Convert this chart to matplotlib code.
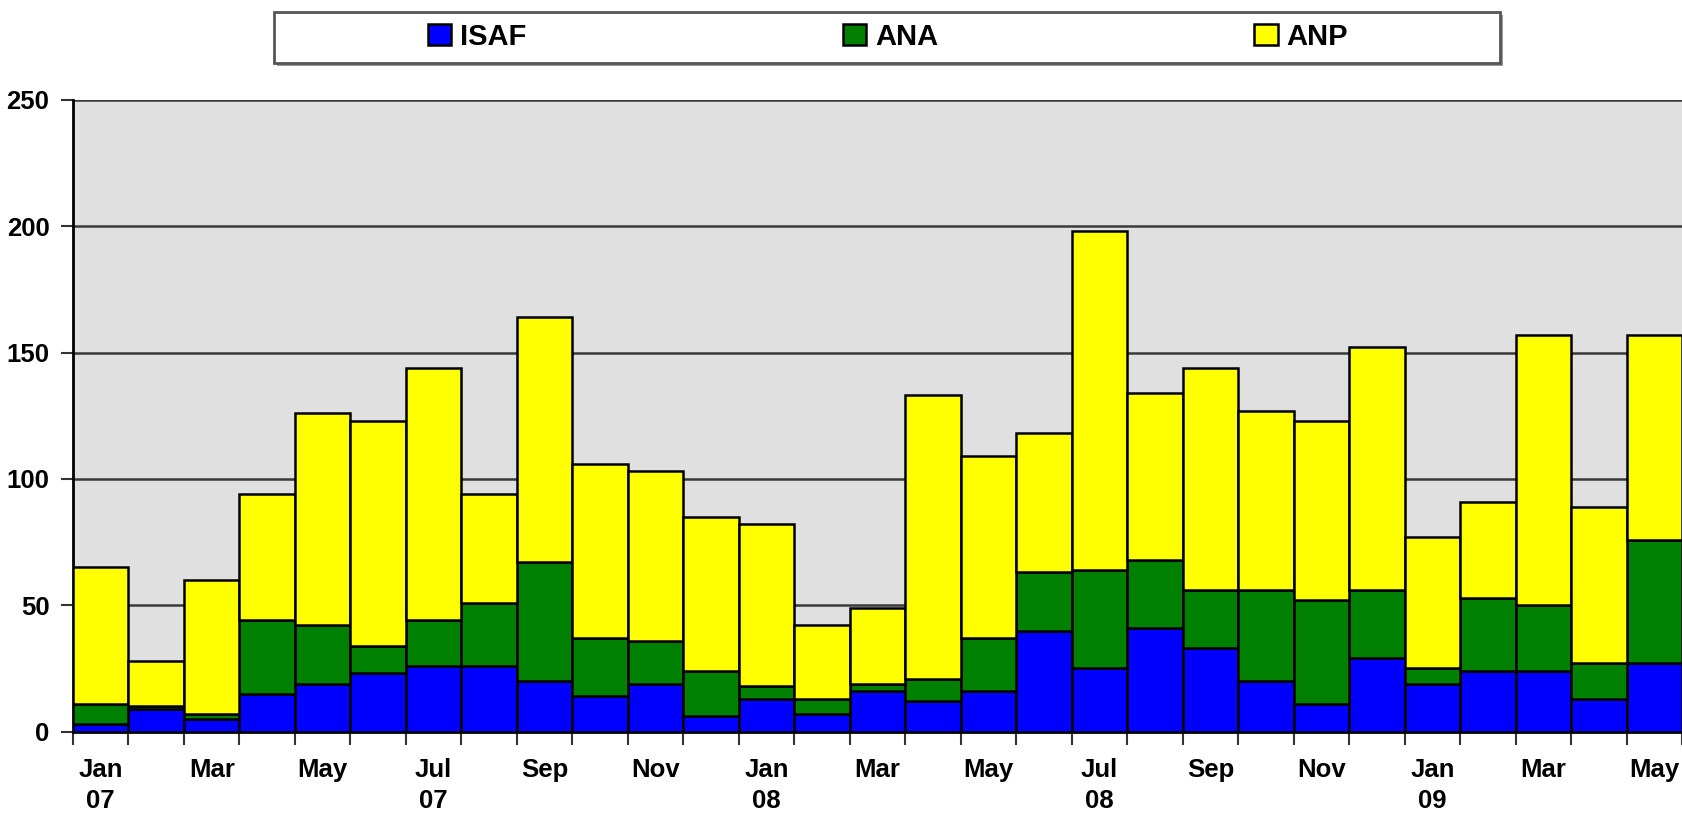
import matplotlib
matplotlib.use("Agg")
import matplotlib.pyplot as plt
import matplotlib.patches as mpatches
import numpy as np

plt.rcParams['font.family'] = ['Liberation Sans', 'DejaVu Sans']
plt.rcParams['font.weight'] = 'bold'

# monthly counts, Jan 2007 - May 2009
months = ['Jan\n07', 'Feb', 'Mar', 'Apr', 'May', 'Jun', 'Jul\n07', 'Aug', 'Sep', 'Oct', 'Nov', 'Dec',
          'Jan\n08', 'Feb', 'Mar', 'Apr', 'May', 'Jun', 'Jul\n08', 'Aug', 'Sep', 'Oct', 'Nov', 'Dec',
          'Jan\n09', 'Feb', 'Mar', 'Apr', 'May']
isaf = [3, 9, 5, 15, 19, 23, 26, 26, 20, 14, 19, 6,
        13, 7, 16, 12, 16, 40, 25, 41, 33, 20, 11, 29,
        19, 24, 24, 13, 27]
ana = [8, 1, 2, 29, 23, 11, 18, 25, 47, 23, 17, 18,
       5, 6, 3, 9, 21, 23, 39, 27, 23, 36, 41, 27,
       6, 29, 26, 14, 49]
anp = [54, 18, 53, 50, 84, 89, 100, 43, 97, 69, 67, 61,
       64, 29, 30, 112, 72, 55, 134, 66, 88, 71, 71, 96,
       52, 38, 107, 62, 81]

series = ['ISAF', 'ANA', 'ANP']
colors = ['#0000FF', '#008000', '#FFFF00']

fig = plt.figure(figsize=(16.82, 8.14), dpi=100)
ax = fig.add_axes([0.0434, 0.1012, 0.9566, 0.7762])
ax.set_facecolor('#E0E0E0')

x = np.arange(len(months))
bottom = np.zeros(len(months))
handles = []
for name, vals, col in zip(series, [isaf, ana, anp], colors):
    b = ax.bar(x, vals, width=1.0, bottom=bottom, color=col, edgecolor='black',
               linewidth=1.8, label=name, zorder=3)
    handles.append(b)
    bottom = bottom + np.array(vals)

ax.set_xlim(-0.5, len(months) - 0.5)
ax.set_ylim(0, 250)
ax.set_yticks(np.arange(0, 251, 50))
ax.yaxis.grid(True, color='#3a3a3a', linewidth=1.8, zorder=1)
ax.set_axisbelow(True)

# ticks at bar boundaries, labels every second month at bar centres
ax.set_xticks(np.arange(-0.5, len(months), 1.0))
ax.set_xticklabels([])
ax.tick_params(axis='x', which='major', length=9, width=1.5, direction='out', color='#333333')
lab_pos = x[::2]
ax.set_xticks(lab_pos, minor=True)
ax.set_xticklabels([months[i] for i in lab_pos], minor=True, fontsize=18.5, fontweight='bold',
                   linespacing=1.35, va='top')
ax.tick_params(axis='x', which='minor', length=0, pad=19)
ax.tick_params(axis='y', length=9, width=1.5, pad=8, labelsize=18.5, color='#333333')
for t in ax.get_yticklabels():
    t.set_fontweight('bold')

for s in ['top', 'right']:
    ax.spines[s].set_visible(False)
ax.spines['left'].set_linewidth(2)
ax.spines['bottom'].set_linewidth(2)

# legend box across the top
shadow = mpatches.Rectangle((274 / 1682 + 0.002, 1 - 63 / 814 - 0.004), 1226 / 1682, 51 / 814,
                            transform=fig.transFigure, facecolor='#9a9a9a', edgecolor='none')
box = mpatches.Rectangle((274 / 1682, 1 - 63 / 814), 1226 / 1682, 51 / 814,
                         transform=fig.transFigure, facecolor='white', edgecolor='#555555',
                         linewidth=2)
fig.patches.extend([shadow, box])
leg = fig.legend(handles=handles, labels=series, loc='center', ncol=3,
                 bbox_to_anchor=(888 / 1682, 1 - 37 / 814), frameon=False,
                 prop={'size': 21, 'weight': 'bold'}, handlelength=0.79, handleheight=0.72,
                 handletextpad=0.31, columnspacing=10.85)

fig.savefig('out.png', dpi=100)
